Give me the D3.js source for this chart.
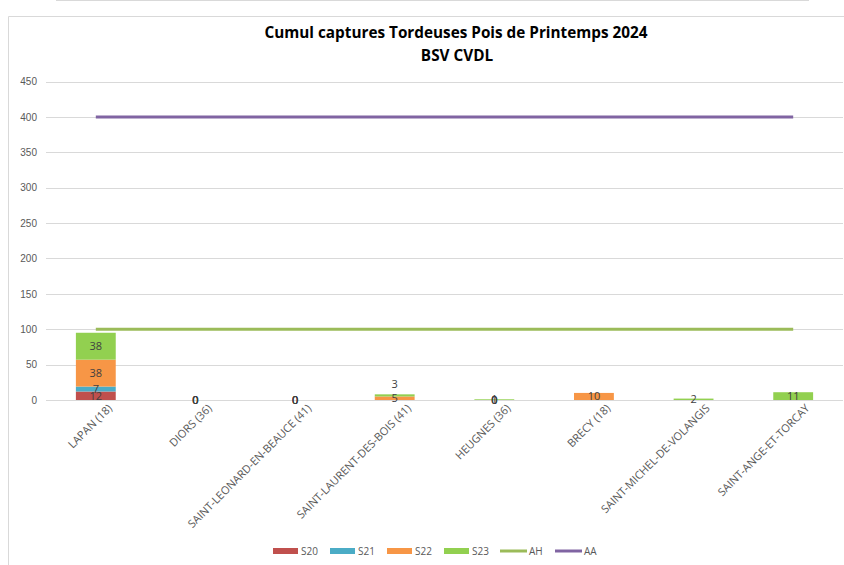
<!DOCTYPE html>
<html>
<head>
<meta charset="utf-8">
<script src="https://cdn.jsdelivr.net/npm/d3@7"></script>
<style>
  body { margin: 0; background: #fff; }
  svg { display: block; font-family: "Open Sans", "Liberation Sans", sans-serif; }
  .tick text { fill: #595959; font-size: 10px; }
</style>
</head>
<body>
<svg width="844" height="565"></svg>
<script>
// donnees
var communes = ["LAPAN (18)", "DIORS (36)", "SAINT-LEONARD-EN-BEAUCE (41)", "SAINT-LAURENT-DES-BOIS (41)",
    "HEUGNES (36)", "BRECY (18)", "SAINT-MICHEL-DE-VOLANGIS", "SAINT-ANGE-ET-TORCAY"];
var s20 = [12, 0, 0, null, 0, null, null, null];
var s21 = [7, 0, 0, null, 0, null, null, null];
var s22 = [38, 0, 0, 5, 0, 10, null, null];
var s23 = [38, 0, 0, 3, 1, null, 2, 11];
var seuilAH = 100;
var seuilAA = 400;
var yTicks = [0, 50, 100, 150, 200, 250, 300, 350, 400, 450];

var series = [
    { name: "S20", values: s20, color: "#C0504D" },
    { name: "S21", values: s21, color: "#4BACC6" },
    { name: "S22", values: s22, color: "#F79646" },
    { name: "S23", values: s23, color: "#92D050" }
];
var lignes = [
    { name: "AH", value: seuilAH, color: "#9BBB59" },
    { name: "AA", value: seuilAA, color: "#8064A2" }
];

var svg = d3.select("svg");

// cadre
svg.append("line").attr("x1", 56).attr("x2", 809).attr("y1", 0.5).attr("y2", 0.5)
    .attr("stroke", "#d9d9d9");
svg.append("path").attr("d", "M8.5,565V16.5H844").attr("fill", "none").attr("stroke", "#d9d9d9");

// titre
var titre = svg.append("text").attr("text-anchor", "middle").attr("font-weight", "bold")
    .attr("font-size", "15.3px").attr("fill", "#000");
titre.append("tspan").attr("x", 456).attr("y", 38).text("Cumul captures Tordeuses Pois de Printemps 2024");
titre.append("tspan").attr("x", 457).attr("y", 61).text("BSV CVDL");

var x = d3.scaleBand().domain(communes).range([46, 843]);
var y = d3.scaleLinear().domain([0, 450]).range([400, 81.5]);

// axe y + grille
svg.append("g")
    .attr("transform", "translate(46,0)")
    .call(d3.axisLeft(y).tickValues(yTicks).tickSize(0).tickPadding(9))
    .call(function(g) { g.select(".domain").remove(); });

svg.append("g").selectAll("line")
    .data(yTicks)
    .enter().append("line")
    .attr("x1", 46).attr("x2", 843)
    .attr("y1", function(d) { return Math.round(y(d)) + 0.5; })
    .attr("y2", function(d) { return Math.round(y(d)) + 0.5; })
    .attr("stroke", "#d9d9d9");

// barres empilees
var barW = x.bandwidth() * 0.4;
var labels = [];
communes.forEach(function(c, i) {
    var base = 0;
    var lastLabelY = null;
    series.forEach(function(s) {
        var v = s.values[i];
        if (v === null) return;
        var y0 = y(base), y1 = y(base + v);
        if (v > 0) {
            svg.append("rect")
                .attr("x", x(c) + (x.bandwidth() - barW) / 2)
                .attr("y", y1)
                .attr("width", barW)
                .attr("height", y0 - y1)
                .attr("fill", s.color);
        }
        var ly = (y0 + y1) / 2;
        // petite etiquette qui chevauche la precedente : on la monte au-dessus
        if (v > 0 && lastLabelY !== null && Math.abs(lastLabelY - ly) < 4) ly = y1 - 10;
        if (v > 0) lastLabelY = ly;
        labels.push({ x: x(c) + x.bandwidth() / 2, y: ly, v: v });
        base += v;
    });
});

svg.append("g").selectAll("text")
    .data(labels)
    .enter().append("text")
    .attr("x", function(d) { return d.x; })
    .attr("y", function(d) { return d.y; })
    .attr("dy", "0.35em")
    .attr("text-anchor", "middle")
    .attr("font-size", "11px")
    .attr("fill", "#404040")
    .text(function(d) { return d.v; });

// lignes de seuil
lignes.forEach(function(l) {
    svg.append("line")
        .attr("x1", x(communes[0]) + x.bandwidth() / 2)
        .attr("x2", x(communes[communes.length - 1]) + x.bandwidth() / 2)
        .attr("y1", y(l.value)).attr("y2", y(l.value))
        .attr("stroke", l.color).attr("stroke-width", 3);
});

// axe x, etiquettes en biais
svg.append("g").selectAll("text")
    .data(communes)
    .enter().append("text")
    .attr("transform", function(d) {
        return "translate(" + (x(d) + x.bandwidth() / 2 + 17) + ",409) rotate(-45)";
    })
    .attr("text-anchor", "end")
    .attr("font-size", "11px")
    .attr("fill", "#595959")
    .text(function(d) { return d; });

// legende
var legende = [
    { name: "S20", color: "#C0504D", type: "rect", x: 273 },
    { name: "S21", color: "#4BACC6", type: "rect", x: 330 },
    { name: "S22", color: "#F79646", type: "rect", x: 387 },
    { name: "S23", color: "#92D050", type: "rect", x: 444 },
    { name: "AH", color: "#9BBB59", type: "line", x: 500 },
    { name: "AA", color: "#8064A2", type: "line", x: 555 }
];
var leg = svg.append("g").selectAll("g").data(legende).enter().append("g")
    .attr("transform", function(d) { return "translate(" + d.x + ",551)"; });
leg.filter(function(d) { return d.type === "rect"; }).append("rect")
    .attr("x", 0).attr("y", -3).attr("width", 25).attr("height", 6)
    .attr("fill", function(d) { return d.color; });
leg.filter(function(d) { return d.type === "line"; }).append("line")
    .attr("x1", 0).attr("x2", 27).attr("y1", 0).attr("y2", 0)
    .attr("stroke", function(d) { return d.color; }).attr("stroke-width", 3);
leg.append("text")
    .attr("x", function(d) { return d.type === "rect" ? 28 : 29; })
    .attr("dy", "0.35em")
    .attr("font-size", "10px")
    .attr("fill", "#595959")
    .text(function(d) { return d.name; });
</script>
</body>
</html>
